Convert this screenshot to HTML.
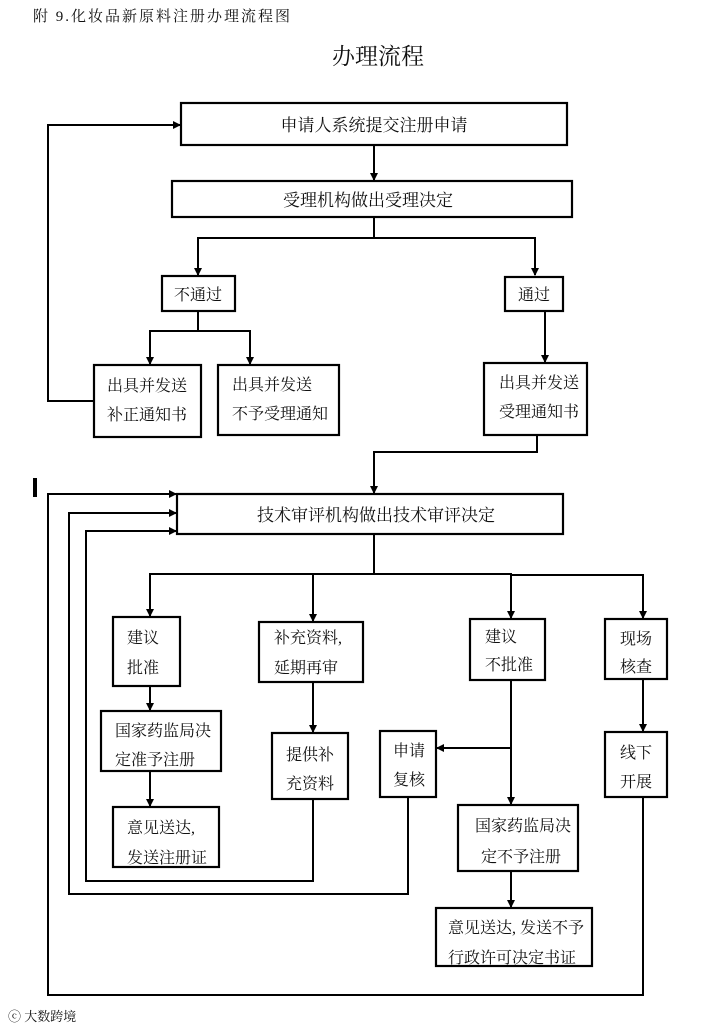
<!DOCTYPE html>
<html><head><meta charset="utf-8"><style>
body{margin:0;background:#fff;}
svg text{font-family:"Liberation Serif","Noto Serif CJK SC","Noto Sans CJK SC",serif;fill:#111;}
</style></head><body>
<svg width="712" height="1028" viewBox="0 0 712 1028" xmlns="http://www.w3.org/2000/svg">
<defs><marker id="a" markerWidth="8" markerHeight="8" refX="7" refY="4" orient="auto" markerUnits="userSpaceOnUse"><path d="M0,0 L8,4 L0,8 z" fill="#000"/></marker></defs>
<text x="33" y="21" font-size="15" letter-spacing="2" fill="#333">附 9.化妆品新原料注册办理流程图</text>
<text x="378" y="64" font-size="23" text-anchor="middle">办理流程</text>
<g fill="none" stroke="#000" stroke-width="2.2">
<rect x="181" y="103" width="386" height="42"/>
<rect x="172" y="181" width="400" height="36"/>
<rect x="162" y="276" width="73" height="35"/>
<rect x="505" y="277" width="58" height="34"/>
<rect x="94" y="365" width="107" height="72"/>
<rect x="218" y="365" width="121" height="70"/>
<rect x="484" y="363" width="103" height="72"/>
<rect x="177" y="494" width="386" height="40"/>
<rect x="113" y="617" width="67" height="69"/>
<rect x="259" y="622" width="104" height="60"/>
<rect x="470" y="619" width="75" height="61"/>
<rect x="605" y="619" width="62" height="60"/>
<rect x="101" y="711" width="120" height="60"/>
<rect x="113" y="807" width="106" height="60"/>
<rect x="272" y="733" width="76" height="66"/>
<rect x="380" y="731" width="56" height="66"/>
<rect x="458" y="805" width="120" height="66"/>
<rect x="436" y="908" width="156" height="58"/>
<rect x="605" y="732" width="62" height="65"/>
</g>
<g fill="none" stroke="#000" stroke-width="2" marker-end="url(#a)">
<path d="M374,145 V180"/>
<path d="M374,217 V238 H198 V275"/>
<path d="M374,238 H535 V275"/>
<path d="M198,311 V331 H150 V364"/>
<path d="M198,331 H250 V364"/>
<path d="M545,311 V362"/>
<path d="M94,401 H48 V125 H180"/>
<path d="M537,435 V452 H374 V493"/>
<path d="M374,534 V574 H150 V616"/>
<path d="M313,575 V621"/>
<path d="M374,574 H511 V618"/>
<path d="M511,575 H643 V618"/>
<path d="M150,686 V710"/>
<path d="M150,771 V806"/>
<path d="M313,682 V732"/>
<path d="M511,680 V804"/>
<path d="M511,748 H437"/>
<path d="M511,871 V907"/>
<path d="M643,679 V731"/>
<path d="M313,799 V881 H86 V531 H176"/>
<path d="M408,797 V894 H69 V513 H176"/>
<path d="M643,797 V995 H48 V494 H176"/>
</g>
<rect x="33" y="478" width="4" height="19" fill="#000"/>
<g font-size="16">
<text x="374" y="131" text-anchor="middle" font-size="17">申请人系统提交注册申请</text>
<text x="368" y="206" text-anchor="middle" font-size="17">受理机构做出受理决定</text>
<text x="198" y="300" text-anchor="middle">不通过</text>
<text x="534" y="300" text-anchor="middle">通过</text>
<text x="107" y="391">出具并发送</text><text x="107" y="420">补正通知书</text>
<text x="232" y="390">出具并发送</text><text x="232" y="419">不予受理通知</text>
<text x="499" y="388">出具并发送</text><text x="499" y="417">受理通知书</text>
<text x="376" y="521" text-anchor="middle" font-size="17">技术审评机构做出技术审评决定</text>
<text x="127" y="643">建议</text><text x="127" y="673">批准</text>
<text x="274" y="643">补充资料,</text><text x="274" y="673">延期再审</text>
<text x="485" y="642">建议</text><text x="485" y="670">不批准</text>
<text x="620" y="644">现场</text><text x="620" y="672">核查</text>
<text x="115" y="736">国家药监局决</text><text x="115" y="765">定准予注册</text>
<text x="127" y="833">意见送达,</text><text x="127" y="863">发送注册证</text>
<text x="286" y="760">提供补</text><text x="286" y="789">充资料</text>
<text x="393" y="756">申请</text><text x="393" y="785">复核</text>
<text x="475" y="831">国家药监局决</text><text x="481" y="862">定不予注册</text>
<text x="448" y="933">意见送达, 发送不予</text><text x="448" y="963">行政许可决定书证</text>
<text x="620" y="758">线下</text><text x="620" y="787">开展</text>
</g>
<text x="8" y="1021" font-size="13" fill="#ddd">ⓒ 大数跨境</text>
</svg>
</body></html>
